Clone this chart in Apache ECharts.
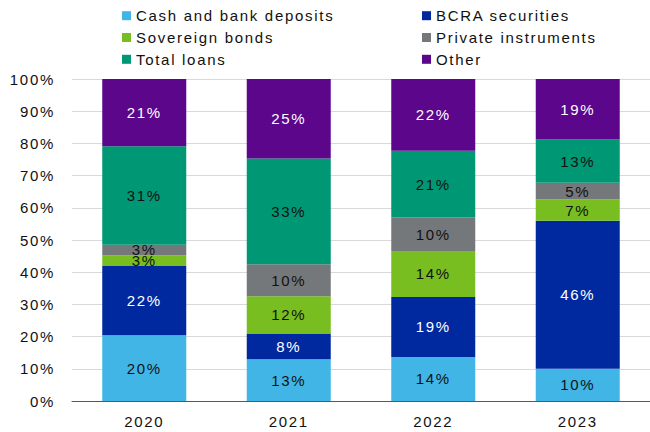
<!DOCTYPE html>
<html>
<head>
<meta charset="utf-8">
<script src="https://cdn.jsdelivr.net/npm/echarts@6/dist/echarts.min.js"></script>
<style>
  html, body { margin: 0; padding: 0; background: #ffffff; }
  #chart { width: 650px; height: 432px; }
  /* wide, Office-style text tracking */
  #chart text { letter-spacing: 1.7px; }
</style>
</head>
<body>
<div id="chart"></div>
<script>
// Composition of assets by year, share of total (%)
var years = ['2020', '2021', '2022', '2023'];
var cashDeposits     = [20.4, 13.0, 13.7, 10.0];
var bcraSecurities   = [21.5, 8.0, 18.6, 46.0];
var sovereignBonds   = [3.4, 11.5, 14.3, 6.6];
var privateInstr     = [3.2, 10.0, 10.4, 5.2];
var totalLoans       = [30.6, 32.8, 20.7, 13.4];
var otherAssets      = [20.9, 24.7, 22.3, 18.8];
var yTicks = [0, 10, 20, 30, 40, 50, 60, 70, 80, 90, 100];

var FONT = '"Liberation Sans", Arial, sans-serif';

var seriesDefs = [
  { name: 'Cash and bank deposits', data: cashDeposits,   color: '#41B6E6', text: '#111111' },
  { name: 'BCRA securities',        data: bcraSecurities, color: '#0029A0', text: '#ffffff' },
  { name: 'Sovereign bonds',        data: sovereignBonds, color: '#78BE20', text: '#111111' },
  { name: 'Private instruments',    data: privateInstr,   color: '#75787B', text: '#111111' },
  { name: 'Total loans',            data: totalLoans,     color: '#009775', text: '#111111' },
  { name: 'Other',                  data: otherAssets,    color: '#5C068C', text: '#ffffff' }
];

var series = seriesDefs.map(function (s) {
  return {
    name: s.name,
    type: 'bar',
    stack: 'total',
    barWidth: 84,
    data: s.data,
    itemStyle: { color: s.color },
    label: {
      show: true,
      position: 'inside',
      color: s.text,
      fontFamily: FONT,
      fontSize: 15,
      formatter: function (p) { return Math.round(p.value) + '%'; }
    },
    emphasis: { disabled: true }
  };
});

function legendBlock(names, left) {
  return {
    orient: 'vertical',
    left: left,
    top: 8.2,
    padding: 0,
    itemWidth: 9,
    itemHeight: 9,
    itemGap: 6.8,
    icon: 'rect',
    selectedMode: false,
    data: names,
    textStyle: {
      fontFamily: FONT,
      fontSize: 15,
      lineHeight: 15,
      color: '#111111'
    }
  };
}

var chart = echarts.init(document.getElementById('chart'), null, { renderer: 'svg' });
chart.setOption({
  animation: false,
  backgroundColor: '#ffffff',
  legend: [
    legendBlock(['Cash and bank deposits', 'Sovereign bonds', 'Total loans'], 122),
    legendBlock(['BCRA securities', 'Private instruments', 'Other'], 422)
  ],
  grid: { left: 72, top: 79, width: 584, height: 322, containLabel: false },
  xAxis: {
    type: 'category',
    data: years,
    axisTick: { show: false },
    axisLine: { lineStyle: { color: '#595959', width: 1 } },
    axisLabel: { color: '#111111', fontFamily: FONT, fontSize: 15, margin: 13 }
  },
  yAxis: {
    type: 'value',
    min: yTicks[0],
    max: yTicks[yTicks.length - 1],
    interval: yTicks[1] - yTicks[0],
    axisLine: { show: false },
    axisTick: { show: false },
    splitLine: { lineStyle: { color: '#d9d9d9', width: 1 } },
    axisLabel: { color: '#111111', fontFamily: FONT, fontSize: 15, margin: 17, formatter: '{value}%' }
  },
  series: series
});
</script>
</body>
</html>
